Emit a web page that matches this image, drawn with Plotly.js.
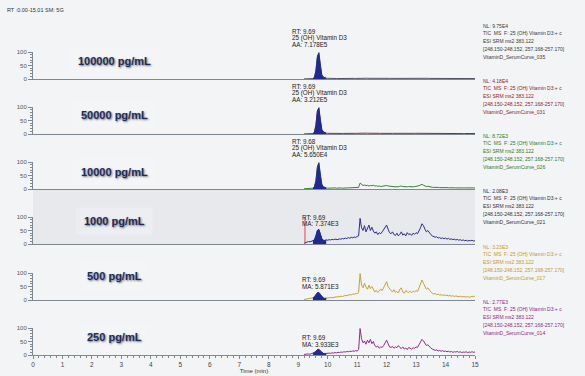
<!DOCTYPE html>
<html><head><meta charset="utf-8">
<script src="https://cdn.plot.ly/plotly-3.0.1.min.js"></script>
<style>html,body{margin:0;padding:0;background:#f3f4f6}#chart{width:585px;height:376px}</style>
</head><body><div id="chart"></div>
<script>
// Retention time (min)
const time = [
9.20,9.25,9.30,9.35,9.40,9.45,9.50,9.55,9.60,9.65,
9.70,9.75,9.80,9.85,9.90,9.95,10.00,10.05,10.10,10.15,
10.20,10.25,10.30,10.35,10.40,10.45,10.50,10.55,10.60,10.65,
10.70,10.75,10.80,10.85,10.90,10.95,11.00,11.05,11.10,11.15,
11.20,11.25,11.30,11.35,11.40,11.45,11.50,11.55,11.60,11.65,
11.70,11.75,11.80,11.85,11.90,11.95,12.00,12.05,12.10,12.15,
12.20,12.25,12.30,12.35,12.40,12.45,12.50,12.55,12.60,12.65,
12.70,12.75,12.80,12.85,12.90,12.95,13.00,13.05,13.10,13.15,
13.20,13.25,13.30,13.35,13.40,13.45,13.50,13.55,13.60,13.65,
13.70,13.75,13.80,13.85,13.90,13.95,14.00,14.05,14.10,14.15,
14.20,14.25,14.30,14.35,14.40,14.45,14.50,14.55,14.60,14.65,
14.70,14.75,14.80,14.85,14.90,14.95,15.00];

// Relative abundance (%) per standard
const s100000 = [
0.5,0.5,0.6,0.5,0.8,0.8,1.5,6,30,82,
97,48,16,7,4,3,2.5,2,2.2,1.8,
2,1.6,1.9,1.7,2,1.8,2.1,1.7,2,1.9,
2.2,1.8,2.1,2,2.3,2.1,2.4,2.6,4,3.2,
2.8,3.1,2.6,2.9,2.5,2.7,2.4,2.8,2.3,2.5,
2.2,2.4,2.1,2.5,2.6,2.8,3.2,2.7,2.4,2.2,
2.3,2.1,2.4,2,2.2,2.5,2.7,2.3,2.1,2.3,
2,2.2,2.1,2.3,2,2.2,2.4,2.3,2.8,3.2,
3.6,3.1,2.7,2.4,2.6,2.2,2.1,1.9,2,1.8,
1.9,1.7,1.8,1.6,1.8,1.7,1.6,1.8,1.5,1.7,
1.6,1.5,1.7,1.5,1.6,1.4,1.6,1.5,1.4,1.6,
1.5,1.4,1.6,1.5,1.4,1.5,1.6];
const s50000 = [
0.4,0.5,0.5,0.6,0.7,0.9,1.6,7,32,84,
97,50,17,8,4.5,3.2,2.6,2.3,2.1,2,
1.8,2,1.7,1.9,2.1,1.8,2,2.2,1.9,2.1,
2,2.3,2.1,2.4,2.2,2.5,2.6,2.8,4.5,3.4,
3,3.3,2.8,3.1,2.7,3,2.6,2.9,2.5,2.7,
2.4,2.6,2.3,2.7,2.9,3.1,3.5,2.9,2.6,2.4,
2.5,2.3,2.6,2.2,2.4,2.7,2.9,2.5,2.3,2.5,
2.2,2.4,2.3,2.5,2.2,2.4,2.6,2.5,3,3.5,
3.9,3.3,2.9,2.6,2.8,2.4,2.3,2.1,2.2,2,
2.1,1.9,2,1.8,2,1.9,1.8,2,1.7,1.9,
1.8,1.7,1.9,1.7,1.8,1.6,1.8,1.7,1.6,1.8,
1.7,1.6,1.8,1.7,1.6,1.7,1.8];
const s10000 = [
1,1,1.5,1,2,2,3,8,30,80,
97,50,18,8,5,4,3,3.5,3,4,
3.5,4,3,4,3.5,4,3,4,3.5,4,
4,4.5,4,5,4.5,5,5,6,22,16,
13,15,12,14,11,13,12,14,11,12,
10,11,9,10,11,12,13,11,10,9,
10,9,8,9,8,10,11,9,8,9,
8,9,8,9,8,9,10,10,12,15,
17,14,11,9,10,8,7,6.5,6,6.5,
5.5,6,5,5.5,5,5,4.5,5,4.5,5,
4.5,4,4.5,4,4.5,4,4,4.5,4,4,
4,3.5,4,3.5,4,3.5,4];
const s1000 = [
3,5,7,9,8,10,12,15,30,50,
54,35,20,14,13,15,14,16,15,17,
16,18,17,16,19,18,20,19,22,20,
24,21,25,23,26,24,28,30,95,60,
50,68,45,55,70,50,62,48,40,45,
35,42,38,45,55,62,70,55,42,38,
45,35,32,40,30,36,45,33,38,30,
42,35,38,32,40,36,42,38,48,60,
75,68,55,45,50,40,35,30,28,25,
27,22,24,20,23,19,22,18,21,17,
19,16,18,15,17,14,16,13,15,12,
14,11,13,12,14,11,12];
const s500 = [
2,3,4,3,5,6,8,12,20,27,
28,20,12,8,6,7,6,8,9,8,
10,11,12,11,13,14,13,15,17,16,
18,20,19,22,21,24,23,28,98,55,
45,62,48,40,55,42,50,38,30,35,
28,33,40,35,45,55,68,50,40,35,
30,38,28,32,26,40,45,30,25,35,
30,28,32,27,33,30,35,32,45,58,
74,62,48,40,45,35,30,25,22,24,
20,22,18,20,17,19,16,18,15,17,
14,16,13,15,14,12,14,11,13,12,
11,13,10,12,14,12,15];
const s250 = [
2,3,3,4,3,5,6,9,14,20,
21,15,9,6,5,6,5,7,6,8,
7,9,8,10,9,11,10,12,11,13,
12,14,13,15,14,16,15,20,98,60,
45,52,40,55,45,58,42,50,35,30,
33,25,30,28,35,45,55,42,30,28,
32,25,30,27,35,28,24,30,22,26,
20,28,24,22,27,25,30,28,38,48,
58,52,42,35,38,30,26,22,20,17,
19,15,17,14,16,13,15,12,14,11,
13,10,12,11,13,10,12,9,11,10,
12,9,11,10,12,10,11];

const concLabels = ["100000 pg/mL","50000 pg/mL","10000 pg/mL","1000 pg/mL","500 pg/mL","250 pg/mL"];
const nlValues = ["NL: 9.75E4","NL: 4.18E4","NL: 8.72E3","NL: 2.08E3","NL: 3.23E3","NL: 2.77E3"];
const fileNames = ["VitaminD_SerumCurve_035","VitaminD_SerumCurve_031","VitaminD_SerumCurve_026","VitaminD_SerumCurve_021","VitaminD_SerumCurve_017","VitaminD_SerumCurve_014"];
const rtValues = ["RT: 9.69","RT: 9.69","RT: 9.68","RT: 9.69","RT: 9.69","RT: 9.69"];
const compoundNames = ["25 (OH) Vitamin D3","25 (OH) Vitamin D3","25 (OH) Vitamin D3","","",""];
const areaValues = ["AA: 7.178E5","AA: 3.212E5","AA: 5.650E4","MA: 7.374E3","MA: 5.871E3","MA: 3.933E3"];
const scanLines = ["TIC  MS  F: 25 (OH) Vitamin D3:+ c","ESI SRM ms2 383.122","[248.150-248.152, 257.168-257.170]"];
const headerText = "RT :0.00-15.01 SM: 5G";
const xTitle = "Time (min)";

const series = [s100000, s50000, s10000, s1000, s500, s250];
const lineColors = ["#4d525e","#8b2b2b","#3d7d3d","#2c2c8c","#c9a032","#8e2d84"];
const textColors = ["#3a3a3a","#8b2626","#2f7a2f","#30303c","#c49a2c","#8b2a82"];
const peakFill = "#1f2a90";

// geometry (px)
const W = 585, H = 376, L = 33, R = 110, T = 52, B = 21;
const plotH = H - T - B, plotW = W - L - R;
const baselinesPx = [79, 134, 189, 244, 300, 355];
const unitPx = 27;
const py = px => (H - B - px) / plotH;
const pxToMin = px => (px - L) / plotW * 15;
const labelYPx = [61, 115, 172, 221, 276, 337];
const fontFam = 'Arial, "Liberation Sans", sans-serif';
const axisGray = "#7f8790";

const traces = [];
const layout = {
  width: W, height: H,
  margin: {l: L, r: R, t: T, b: B},
  paper_bgcolor: "#f3f4f6",
  plot_bgcolor: "rgba(0,0,0,0)",
  showlegend: false,
  font: {family: fontFam, color: "#444"},
  annotations: [],
  shapes: []
};

for (let i = 0; i < 6; i++) {
  const sfx = i === 0 ? "" : String(i + 1);
  const b = baselinesPx[i];
  layout["yaxis" + sfx] = {
    domain: [py(b), py(b - unitPx)],
    range: [0, 100],
    anchor: "x" + sfx,
    showline: true, linecolor: axisGray, linewidth: 1,
    showgrid: false, zeroline: false,
    tickmode: "array", tickvals: [0, 50, 100],
    ticks: "outside", ticklen: 4, tickcolor: axisGray, tickwidth: 1,
    minor: {tickmode: "linear", tick0: 0, dtick: 10, ticks: "outside", ticklen: 2, tickcolor: axisGray, tickwidth: 1},
    tickfont: {size: 6, color: "#555"}
  };
  const xa = {
    domain: [0, 1], range: [0, 15],
    anchor: "y" + sfx,
    showline: true, linecolor: axisGray, linewidth: 1,
    showgrid: false, zeroline: false,
    showticklabels: false, ticks: ""
  };
  if (i > 0) xa.matches = "x";
  if (i === 5) {
    Object.assign(xa, {
      showticklabels: true, ticks: "outside", ticklen: 3, tickcolor: axisGray,
      tickmode: "linear", tick0: 0, dtick: 1,
      minor: {tickmode: "linear", tick0: 0, dtick: 0.2, ticks: "outside", ticklen: 1.5, tickcolor: axisGray},
      tickfont: {size: 6.5, color: "#444"},
      title: {text: xTitle, font: {size: 6, color: "#333"}, standoff: 2}
    });
  }
  layout["xaxis" + sfx] = xa;

  traces.push({
    type: "scatter", mode: "lines", x: time, y: series[i],
    xaxis: "x" + sfx, yaxis: "y" + sfx,
    line: {color: lineColors[i], width: 1}, hoverinfo: "skip"
  });
  const px = [], pyv = [];
  time.forEach((t, k) => { if (t >= 9.5 && t <= 9.95) { px.push(t); pyv.push(series[i][k]); } });
  traces.push({
    type: "scatter", mode: "lines", x: px, y: pyv,
    xaxis: "x" + sfx, yaxis: "y" + sfx, fill: "tozeroy",
    fillcolor: peakFill, line: {color: peakFill, width: 0.8}, hoverinfo: "skip"
  });

  // concentration label
  layout.annotations.push({
    xref: "x" + sfx, yref: "paper", x: pxToMin(114), y: py(labelYPx[i]),
    text: concLabels[i], showarrow: false, xanchor: "center", yanchor: "middle",
    font: {family: fontFam, size: 11, weight: "bold", color: "#1d2b5c", shadow: "1px 1px 2px rgba(0,0,0,0.55)"},
    bgcolor: i === 3 ? "#eceef1" : "#f4f5f7", borderpad: 7
  });

  // peak labels
  const peakLines = i < 3 ? [rtValues[i], compoundNames[i], areaValues[i]] : [rtValues[i], areaValues[i]];
  const peakOff = i < 3 ? [47.5, 41, 34.5] : (i === 3 ? [26.7, 20.7] : (i === 4 ? [20.7, 14] : [17.7, 11]));
  const peakX = i < 3 ? pxToMin(290) : pxToMin(300);
  peakLines.forEach((txt, k) => {
    layout.annotations.push({
      xref: "x" + sfx, yref: "paper", x: peakX, y: py(b - peakOff[k]),
      text: txt, showarrow: false, xanchor: "left", yanchor: "middle",
      font: {family: fontFam, size: 6.3, color: "#222"}
    });
  });

  // right side scan info
  const infoLines = [nlValues[i]].concat(scanLines, [fileNames[i]]);
  infoLines.forEach((txt, k) => {
    layout.annotations.push({
      xref: "paper", yref: "paper", x: (481 - L) / plotW, y: py(b - 53.5 + k * 7.8),
      text: txt, showarrow: false, xanchor: "left", yanchor: "middle",
      font: {family: fontFam, size: 5, color: textColors[i]}
    });
  });
}

layout.annotations.push({
  xref: "paper", yref: "paper", x: (5 - L) / plotW, y: py(10),
  text: headerText, showarrow: false, xanchor: "left", yanchor: "middle",
  font: {family: fontFam, size: 5.5, color: "#333"}
});

layout.shapes.push({
  type: "rect", xref: "paper", yref: "paper", x0: 0, x1: 1,
  y0: py(baselinesPx[3]), y1: py(baselinesPx[2]),
  fillcolor: "#e7e9ec", line: {width: 0}, layer: "below"
});
layout.shapes.push({
  type: "line", xref: "x4", yref: "y4", x0: 9.23, x1: 9.23, y0: 0, y1: 100,
  line: {color: "#e04848", width: 1}
});

Plotly.newPlot("chart", traces, layout, {staticPlot: true, displayModeBar: false});
</script>
</body></html>
